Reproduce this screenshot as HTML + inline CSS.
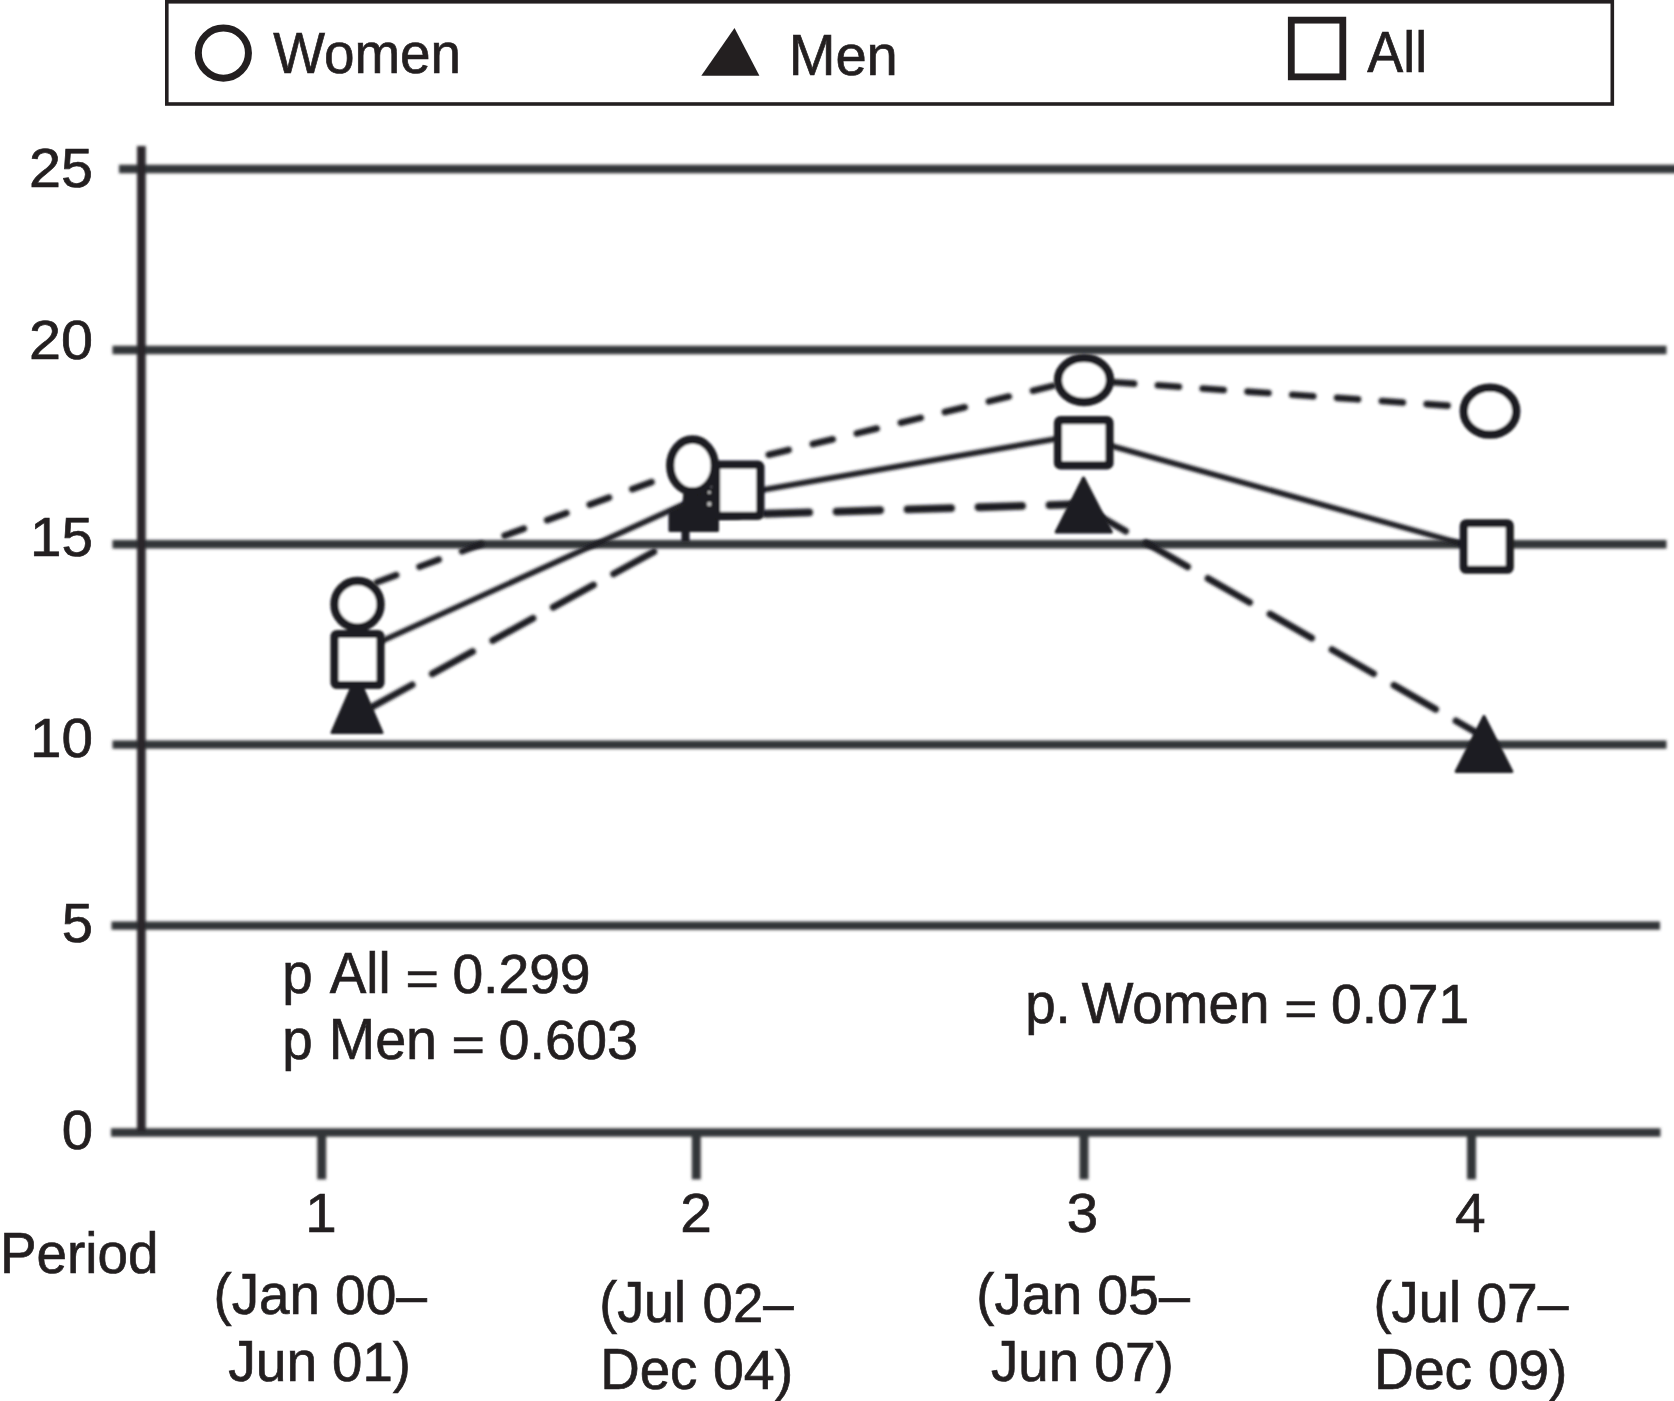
<!DOCTYPE html>
<html><head><meta charset="utf-8"><title>Chart</title>
<style>
html,body{margin:0;padding:0;background:#fff}
body{width:1674px;height:1401px;overflow:hidden}
svg{display:block}
text{font-family:"Liberation Sans",sans-serif;font-size:58px;fill:#231f20;stroke:#231f20;stroke-width:0.7px}
</style></head><body>
<svg width="1674" height="1401" viewBox="0 0 1674 1401">
<defs>
<filter id="b" x="-5%" y="-5%" width="110%" height="110%"><feGaussianBlur stdDeviation="1.5"/></filter>
<filter id="b2" x="-5%" y="-5%" width="110%" height="110%"><feGaussianBlur stdDeviation="1.6"/></filter>
<filter id="b1" x="-5%" y="-5%" width="110%" height="110%"><feGaussianBlur stdDeviation="1.0"/></filter>
</defs>
<rect x="0" y="0" width="1674" height="1401" fill="#fff"/>

<!-- legend -->
<rect x="166.8" y="1.8" width="1445.5" height="102.2" fill="none" stroke="#231f20" stroke-width="3.6"/>
<circle cx="223.4" cy="53.1" r="25.05" fill="none" stroke="#231f20" stroke-width="7"/>
<polygon points="734.5,27.9 759.4,75.8 701.3,75.8" fill="#231f20"/>
<rect x="1291.3" y="20.15" width="51.5" height="56.7" fill="none" stroke="#231f20" stroke-width="6.8"/>

<!-- axes and gridlines -->
<g filter="url(#b)" stroke="#333437" fill="none">
<g stroke-width="8.4">
<line x1="119" y1="169" x2="1680" y2="169"/>
<line x1="112.5" y1="350" x2="1666.5" y2="350"/>
<line x1="112.5" y1="544.2" x2="1666.5" y2="544.2"/>
<line x1="112.5" y1="744.6" x2="1666.5" y2="744.6"/>
<line x1="111.5" y1="925.6" x2="1660" y2="925.6"/>
<line x1="111" y1="1132.5" x2="1660.5" y2="1132.5"/>
</g>
<line x1="141.4" y1="146" x2="141.4" y2="1132" stroke="#29272c" stroke-width="8.8"/>
<g stroke-width="9">
<line x1="321.7" y1="1132" x2="321.7" y2="1179.4"/>
<line x1="696.3" y1="1132" x2="696.3" y2="1179.4"/>
<line x1="1084" y1="1132" x2="1084" y2="1179.4"/>
<line x1="1471.5" y1="1132" x2="1471.5" y2="1179.4"/>
</g>
</g>

<!-- series -->
<g filter="url(#b2)" stroke="#1d1d20" fill="none">
<!-- Men: long dashes -->
<g stroke-width="6.8" stroke-linecap="round">
<line x1="357" y1="715.3" x2="668" y2="543.9" stroke-dasharray="46 23" stroke-dashoffset="52"/>
<line x1="692" y1="516" x2="1084" y2="504" stroke-width="7.8" stroke-dasharray="43.5 27.5" stroke-dashoffset="68.3"/>
<line x1="1084" y1="507.2" x2="1484" y2="737" stroke-dasharray="48 23.5"/>
</g>
<!-- Women: short dashes -->
<g stroke-width="6.6" stroke-linecap="round">
<line x1="357" y1="589.5" x2="692.4" y2="467.3" stroke-dasharray="20.5 24.8" stroke-dashoffset="24.1"/>
<line x1="764" y1="455.9" x2="1083.4" y2="378.5" stroke-dasharray="20.5 24.8" stroke-dashoffset="40.4"/>
<line x1="1083.4" y1="380.1" x2="1490.5" y2="408.6" stroke-dasharray="21 23.9" stroke-dashoffset="15.1"/>
</g>
<!-- All: solid -->
<g stroke-width="5.6">
<line x1="357" y1="652.3" x2="705" y2="494.6"/>
<line x1="750" y1="492" x2="1070" y2="436.4"/>
<line x1="1100" y1="442.7" x2="1475" y2="547.4"/>
</g>
</g>
<g filter="url(#b1)" stroke="#1d1d20" fill="none">
<!-- triangles -->
<g fill="#1d1d20" stroke-width="3" stroke-linejoin="round">
<path d="M357,675 L382,732.5 L332,732.5 Z"/>
<path d="M685,489 L712,489 L712,512 L717.5,514 L717.5,530.5 L670,530.5 L670,512 Q677,509 684,505 Z"/>
<circle cx="709.3" cy="492.3" r="1.6" fill="#bbb" stroke="none"/><circle cx="709.3" cy="504" r="2.2" fill="#bbb" stroke="none"/>
<rect x="682.5" y="531" width="6" height="10" stroke-width="2"/>
<path d="M1083.5,478 L1111.3,532 L1056.2,532 Z"/>
<path d="M1484,716.5 L1511.8,771.5 L1456.2,771.5 Z"/>
</g>
<!-- circles -->
<g fill="#fff" stroke-width="8.3">
<ellipse cx="357.5" cy="604.3" rx="23.1" ry="23.3"/>
<ellipse cx="692.5" cy="465.5" rx="22.3" ry="26"/>
<ellipse cx="1084" cy="380" rx="26" ry="22"/>
<ellipse cx="1490" cy="411.2" rx="26.3" ry="23.5"/>
</g>
<!-- squares -->
<g fill="#fff" stroke-width="8.2" stroke-linejoin="round">
<rect x="334.5" y="634" width="46" height="51" rx="2.5"/>
<rect x="716.1" y="464.6" width="44.3" height="51.3" rx="2.5"/>
<rect x="1058" y="420.2" width="51.5" height="45.2" rx="2.5"/>
<rect x="1463.75" y="523.25" width="46" height="46.5" rx="2.5"/>
</g>
</g>

<!-- text -->
<text><tspan x="273.14" y="72.6" textLength="188.00" lengthAdjust="spacingAndGlyphs">Women</tspan></text>
<text><tspan x="788.65" y="74.8" textLength="109.17" lengthAdjust="spacingAndGlyphs">Men</tspan></text>
<text><tspan x="1367.23" y="71.5" textLength="59.89" lengthAdjust="spacingAndGlyphs">All</tspan></text>
<text><tspan x="29.12" y="187.3" font-size="56" textLength="63.98" lengthAdjust="spacingAndGlyphs">25</tspan></text>
<text><tspan x="29.12" y="359.3" font-size="56" textLength="63.98" lengthAdjust="spacingAndGlyphs">20</tspan></text>
<text><tspan x="30.06" y="556.3" font-size="56" textLength="62.90" lengthAdjust="spacingAndGlyphs">15</tspan></text>
<text><tspan x="30.06" y="757.3" font-size="56" textLength="62.90" lengthAdjust="spacingAndGlyphs">10</tspan></text>
<text><tspan x="61.66" y="942.3" font-size="56" textLength="31.29" lengthAdjust="spacingAndGlyphs">5</tspan></text>
<text><tspan x="61.66" y="1149.3" font-size="56" textLength="31.29" lengthAdjust="spacingAndGlyphs">0</tspan></text>
<text><tspan x="282.33" y="992.7" textLength="30.47" lengthAdjust="spacingAndGlyphs">p</tspan> <tspan x="329.74" y="992.7" textLength="60.94" lengthAdjust="spacingAndGlyphs">All</tspan> <tspan x="405.53" y="994.7" font-size="48" textLength="33.46" lengthAdjust="spacingAndGlyphs">=</tspan> <tspan x="452.40" y="992.7" font-size="56" textLength="138.19" lengthAdjust="spacingAndGlyphs">0.299</tspan></text>
<text><tspan x="282.33" y="1059.0" textLength="30.47" lengthAdjust="spacingAndGlyphs">p</tspan> <tspan x="328.78" y="1059.0" textLength="108.31" lengthAdjust="spacingAndGlyphs">Men</tspan> <tspan x="451.43" y="1061.0" font-size="48" textLength="33.46" lengthAdjust="spacingAndGlyphs">=</tspan> <tspan x="498.48" y="1059.0" font-size="56" textLength="139.60" lengthAdjust="spacingAndGlyphs">0.603</tspan></text>
<text><tspan x="1025.13" y="1022.5" textLength="45.67" lengthAdjust="spacingAndGlyphs">p.</tspan> <tspan x="1081.64" y="1022.5" textLength="187.80" lengthAdjust="spacingAndGlyphs">Women</tspan> <tspan x="1284.17" y="1024.5" font-size="48" textLength="32.99" lengthAdjust="spacingAndGlyphs">=</tspan> <tspan x="1331.00" y="1022.5" font-size="56" textLength="138.19" lengthAdjust="spacingAndGlyphs">0.071</tspan></text>
<text><tspan x="0.05" y="1273.0" textLength="158.47" lengthAdjust="spacingAndGlyphs">Period</tspan></text>
<text><tspan x="305.23" y="1231.8" font-size="56" textLength="31.46" lengthAdjust="spacingAndGlyphs">1</tspan></text>
<text><tspan x="680.35" y="1232.0" font-size="56" textLength="31.61" lengthAdjust="spacingAndGlyphs">2</tspan></text>
<text><tspan x="1066.80" y="1232.0" font-size="56" textLength="31.41" lengthAdjust="spacingAndGlyphs">3</tspan></text>
<text><tspan x="1454.95" y="1232.0" font-size="56" textLength="30.65" lengthAdjust="spacingAndGlyphs">4</tspan></text>
<text><tspan x="213.43" y="1313.8" textLength="106.51" lengthAdjust="spacingAndGlyphs">(Jan</tspan> <tspan x="335.00" y="1313.8" font-size="56" textLength="91.99" lengthAdjust="spacingAndGlyphs">00–</tspan></text>
<text><tspan x="228.22" y="1381.1" textLength="89.13" lengthAdjust="spacingAndGlyphs">Jun</tspan> <tspan x="332.12" y="1381.1" font-size="56" textLength="78.92" lengthAdjust="spacingAndGlyphs">01)</tspan></text>
<text><tspan x="599.18" y="1321.9" textLength="86.95" lengthAdjust="spacingAndGlyphs">(Jul</tspan> <tspan x="702.52" y="1321.9" font-size="56" textLength="91.18" lengthAdjust="spacingAndGlyphs">02–</tspan></text>
<text><tspan x="600.15" y="1389.0" textLength="97.34" lengthAdjust="spacingAndGlyphs">Dec</tspan> <tspan x="712.88" y="1389.0" font-size="56" textLength="80.30" lengthAdjust="spacingAndGlyphs">04)</tspan></text>
<text><tspan x="976.35" y="1313.8" textLength="105.77" lengthAdjust="spacingAndGlyphs">(Jan</tspan> <tspan x="1097.18" y="1313.8" font-size="56" textLength="92.71" lengthAdjust="spacingAndGlyphs">05–</tspan></text>
<text><tspan x="991.03" y="1381.1" textLength="88.08" lengthAdjust="spacingAndGlyphs">Jun</tspan> <tspan x="1094.30" y="1381.1" font-size="56" textLength="79.66" lengthAdjust="spacingAndGlyphs">07)</tspan></text>
<text><tspan x="1373.45" y="1321.9" textLength="87.60" lengthAdjust="spacingAndGlyphs">(Jul</tspan> <tspan x="1476.40" y="1321.9" font-size="56" textLength="91.99" lengthAdjust="spacingAndGlyphs">07–</tspan></text>
<text><tspan x="1374.12" y="1389.0" textLength="98.08" lengthAdjust="spacingAndGlyphs">Dec</tspan> <tspan x="1487.90" y="1389.0" font-size="56" textLength="79.56" lengthAdjust="spacingAndGlyphs">09)</tspan></text>
</svg>
</body></html>
